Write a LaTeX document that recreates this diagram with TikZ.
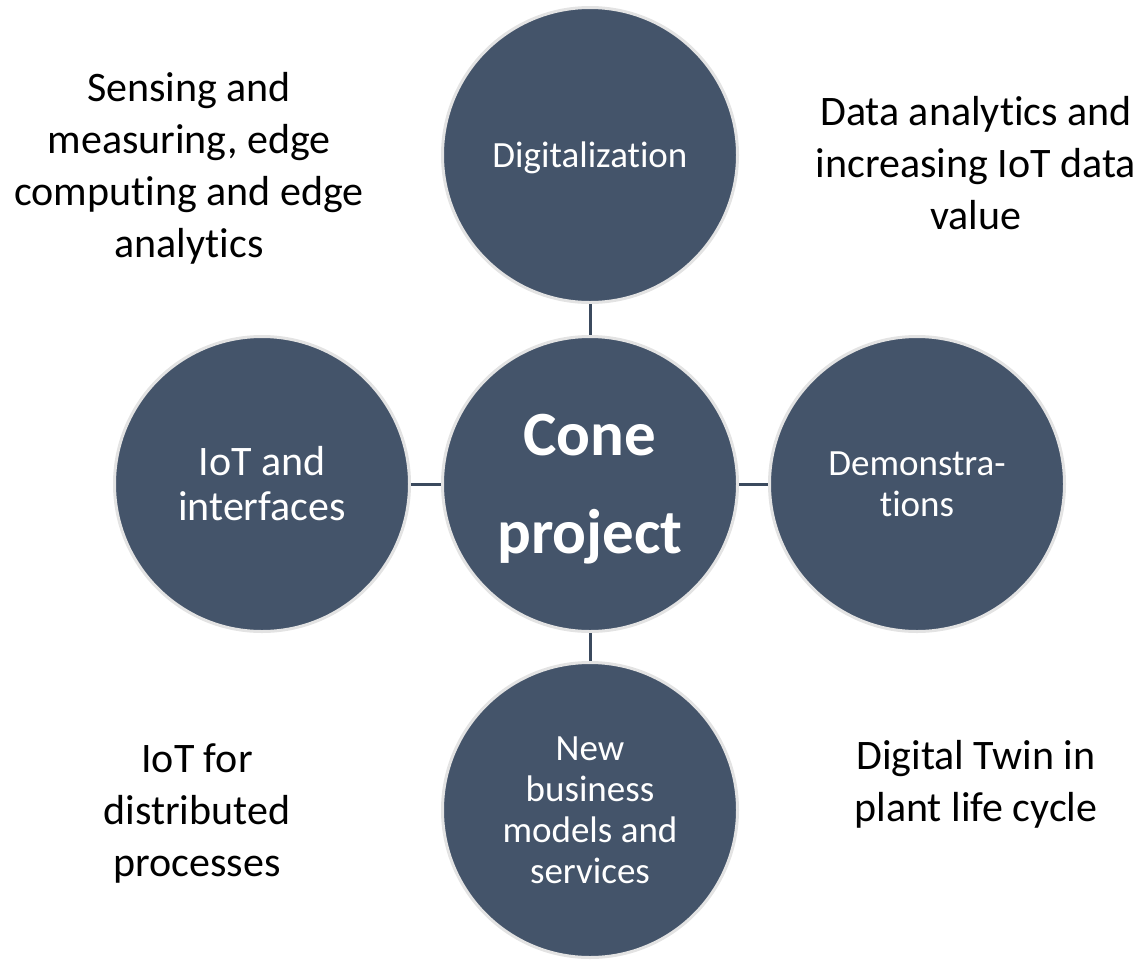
\documentclass[tikz,border=0pt]{standalone}
\usepackage{fontspec}
\setmainfont[Ligatures=NoCommon]{Carlito}
\definecolor{cfill}{HTML}{44546A}
\definecolor{cedge}{HTML}{E3E3E3}
\definecolor{cline}{HTML}{3B4A5E}
\begin{document}
\begin{tikzpicture}[x=1pt,y=-1pt,
  bubble/.style={circle, fill=cfill, draw=cedge, line width=3pt, minimum size=295pt, inner sep=0pt, text=white, align=center},
  small/.style={font=\fontsize{37}{41}\selectfont},
  corner/.style={align=center, text=black, font=\fontsize{42}{52}\selectfont, inner sep=0pt},
  link/.style={draw=cline, line width=3pt}]
\path[use as bounding box] (0,0) rectangle (1143,959);
\node[bubble] (dig) at (590,155) {};
\node[small, text=white] (diglabel) at (590,158) {Digitalization};
\node[bubble] (cone) at (590,484) {};
\node[font=\fontsize{63}{98}\selectfont\bfseries, text=white, align=center] (conelabel) at (590,489) {Cone\\project};
\node[bubble, font=\fontsize{42}{45}\selectfont] (iot) at (262,484) {IoT and\\interfaces};
\node[bubble, small] (demo) at (917,484) {Demonstra-\\tions};
\node[bubble, small] (biz) at (590,810) {New\\business\\models and\\services};
\draw[link] (dig.south) -- (cone.north);
\draw[link] (iot.east) -- (cone.west);
\draw[link] (cone.east) -- (demo.west);
\draw[link] (cone.south) -- (biz.north);
\node[corner] (tl) at (189,168) {Sensing and\\measuring, edge\\computing and edge\\analytics};
\node[corner] (tr) at (976,163) {Data analytics and\\increasing IoT data\\value};
\node[corner] (bl) at (197,813) {IoT for\\distributed\\processes};
\node[corner] (br) at (976,784) {Digital Twin in\\plant life cycle};
\end{tikzpicture}
\end{document}
